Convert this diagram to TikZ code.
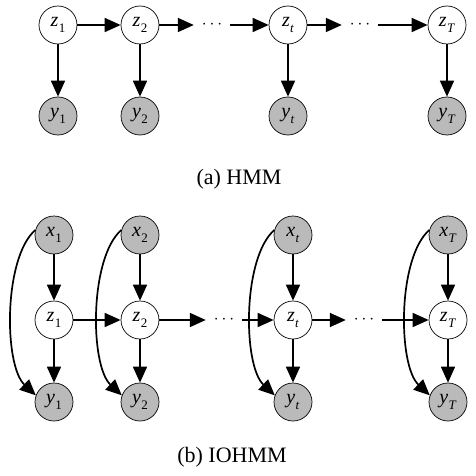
\documentclass[tikz,border=0pt]{standalone}
\usepackage{fontspec}
\setmainfont{Liberation Serif}
\usetikzlibrary{arrows.meta}
\definecolor{nodegray}{RGB}{186,186,186}
\newcommand{\nl}[2]{\textit{#1}\kern0.3pt\raisebox{-0.28em}{\fontsize{13}{13}\selectfont #2}}
\tikzset{
  var/.style={circle, draw=black, line width=0.7pt, minimum size=38pt, inner sep=0pt, font=\fontsize{20}{20}\selectfont},
  hid/.style={var, fill=white},
  obs/.style={var, fill=nodegray},
  dotsnode/.style={inner sep=0pt, minimum width=36pt, minimum height=10pt, font=\fontsize{19}{19}\selectfont},
  edge/.style={line width=1.7pt, -{Triangle[length=16pt,width=14pt]}},
  caption/.style={font=\fontsize{22}{24}\selectfont, inner sep=0pt}
}
\begin{document}
\begin{tikzpicture}[x=1pt, y=-1pt]
\useasboundingbox (0,0) rectangle (475,476);
% (a) HMM
\node[hid] (az1) at (58,25) {\nl{z}{1}};
\node[hid] (az2) at (140,25) {\nl{z}{2}};
\node[hid] (azt) at (288,25) {\nl{z}{\textit{t}}};
\node[hid] (azT) at (447,25) {\nl{z}{\textit{T}}};
\node[obs] (ay1) at (58,116) {\nl{y}{1}};
\node[obs] (ay2) at (140,116) {\nl{y}{2}};
\node[obs] (ayt) at (288,116) {\nl{y}{\textit{t}}};
\node[obs] (ayT) at (447,116) {\nl{y}{\textit{T}}};
\node[dotsnode] (ad1) at (212,25) {$\cdots$};
\node[dotsnode] (ad2) at (360,25) {$\cdots$};
\draw[edge] (az1) -- (az2);
\draw[edge] (az2) -- (ad1);
\draw[edge] (ad1) -- (azt);
\draw[edge] (azt) -- (ad2);
\draw[edge] (ad2) -- (azT);
\foreach \c in {1,2,t,T} \draw[edge] (az\c) -- (ay\c);
\node[caption] (capa) at (239,179) {(a) HMM};
% (b) IOHMM
\node[obs] (bx1) at (54,235) {\nl{x}{1}};
\node[obs] (bx2) at (140,235) {\nl{x}{2}};
\node[obs] (bxt) at (293,235) {\nl{x}{\textit{t}}};
\node[obs] (bxT) at (448,235) {\nl{x}{\textit{T}}};
\node[hid] (bz1) at (54,320) {\nl{z}{1}};
\node[hid] (bz2) at (140,320) {\nl{z}{2}};
\node[hid] (bzt) at (293,320) {\nl{z}{\textit{t}}};
\node[hid] (bzT) at (448,320) {\nl{z}{\textit{T}}};
\node[obs] (by1) at (54,402) {\nl{y}{1}};
\node[obs] (by2) at (140,402) {\nl{y}{2}};
\node[obs] (byt) at (293,402) {\nl{y}{\textit{t}}};
\node[obs] (byT) at (448,402) {\nl{y}{\textit{T}}};
\node[dotsnode] (bd1) at (224,320) {$\cdots$};
\node[dotsnode] (bd2) at (364,320) {$\cdots$};
\draw[edge] (bz1) -- (bz2);
\draw[edge] (bz2) -- (bd1);
\draw[edge] (bd1) -- (bzt);
\draw[edge] (bzt) -- (bd2);
\draw[edge] (bd2) -- (bzT);
\foreach \c in {1,2,t,T} {
  \draw[edge] (bx\c) -- (bz\c);
  \draw[edge] (bz\c) -- (by\c);
  \draw[edge] (bx\c.165) .. controls +(-32,28) and +(-32,-30) .. (by\c.160);
}
\node[caption] (capb) at (232,457) {(b) IOHMM};
\end{tikzpicture}
\end{document}
